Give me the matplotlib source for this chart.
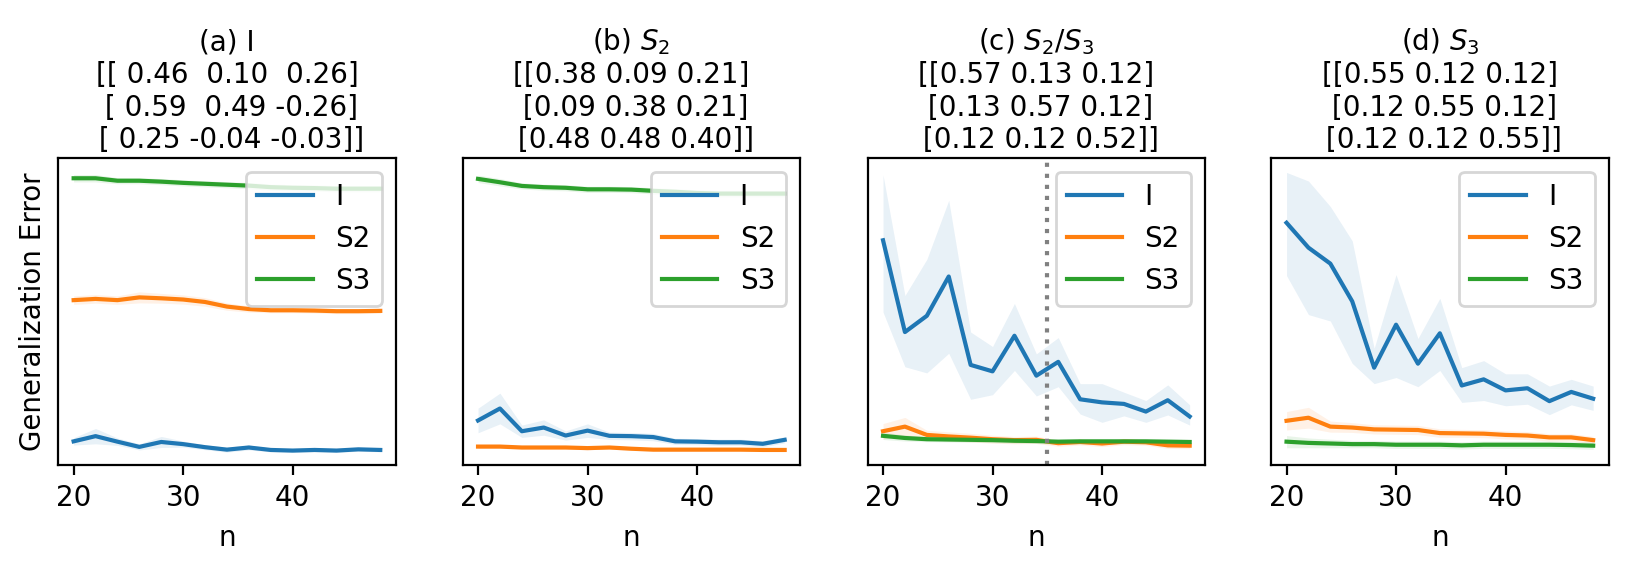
import numpy as np
import matplotlib
matplotlib.use("Agg")
import matplotlib.pyplot as plt

# ---------------- data ----------------
n = [20, 22, 24, 26, 28, 30, 32, 34, 36, 38, 40, 42, 44, 46, 48]
series_labels = ["I", "S2", "S3"]
panel_titles = ["(a) I", "(b) $S_2$", "(c) $S_2/S_3$", "(d) $S_3$"]

mat_a = [[0.46, 0.10, 0.26], [0.59, 0.49, -0.26], [0.25, -0.04, -0.03]]
mat_b = [[0.38, 0.09, 0.21], [0.09, 0.38, 0.21], [0.48, 0.48, 0.40]]
mat_c = [[0.57, 0.13, 0.12], [0.13, 0.57, 0.12], [0.12, 0.12, 0.52]]
mat_d = [[0.55, 0.12, 0.12], [0.12, 0.55, 0.12], [0.12, 0.12, 0.55]]

# (a) values (arbitrary error units) and band half-widths
a_I = [0.077, 0.094, 0.076, 0.059, 0.075, 0.068, 0.058, 0.050, 0.057, 0.049, 0.047, 0.049, 0.047, 0.051, 0.049]
a_I_err = [0.012, 0.025, 0.012, 0.010, 0.018, 0.010, 0.008, 0.008, 0.008, 0.006, 0.006, 0.006, 0.006, 0.006, 0.006]
a_S2 = [0.537, 0.541, 0.537, 0.546, 0.543, 0.539, 0.531, 0.516, 0.508, 0.504, 0.504, 0.503, 0.501, 0.501, 0.502]
a_S2_err = [0.014, 0.014, 0.014, 0.018, 0.016, 0.015, 0.014, 0.012, 0.010, 0.008, 0.008, 0.008, 0.008, 0.008, 0.008]
a_S3 = [0.934, 0.934, 0.926, 0.926, 0.923, 0.919, 0.916, 0.913, 0.910, 0.905, 0.903, 0.902, 0.900, 0.900, 0.900]
a_S3_err = [0.012, 0.012, 0.010, 0.010, 0.010, 0.010, 0.010, 0.010, 0.010, 0.010, 0.010, 0.010, 0.010, 0.010, 0.010]

# (b)
b_I = [0.145, 0.184, 0.110, 0.122, 0.096, 0.112, 0.095, 0.094, 0.091, 0.077, 0.076, 0.074, 0.074, 0.069, 0.082]
b_I_err = [0.040, 0.050, 0.020, 0.025, 0.015, 0.022, 0.012, 0.012, 0.012, 0.010, 0.010, 0.010, 0.010, 0.010, 0.010]
b_S2 = [0.060, 0.060, 0.057, 0.057, 0.057, 0.055, 0.057, 0.053, 0.050, 0.050, 0.050, 0.050, 0.050, 0.049, 0.049]
b_S2_err = [0.006, 0.006, 0.005, 0.005, 0.005, 0.005, 0.005, 0.005, 0.005, 0.005, 0.005, 0.005, 0.005, 0.005, 0.005]
b_S3 = [0.932, 0.921, 0.909, 0.905, 0.903, 0.898, 0.898, 0.897, 0.893, 0.890, 0.886, 0.884, 0.884, 0.884, 0.884]
b_S3_err = [0.012, 0.012, 0.010, 0.010, 0.010, 0.010, 0.010, 0.010, 0.010, 0.010, 0.010, 0.010, 0.010, 0.010, 0.010]

# (c)
c_I = [0.732, 0.433, 0.486, 0.614, 0.326, 0.305, 0.421, 0.291, 0.336, 0.214, 0.204, 0.199, 0.174, 0.211, 0.158]
c_I_lo = [0.498, 0.320, 0.300, 0.364, 0.214, 0.229, 0.308, 0.225, 0.255, 0.166, 0.139, 0.160, 0.139, 0.163, 0.130]
c_I_hi = [0.945, 0.552, 0.670, 0.862, 0.433, 0.386, 0.526, 0.362, 0.415, 0.265, 0.265, 0.237, 0.210, 0.261, 0.196]
c_S2 = [0.110, 0.125, 0.098, 0.093, 0.089, 0.084, 0.081, 0.082, 0.071, 0.075, 0.070, 0.076, 0.074, 0.064, 0.063]
c_S2_err = [0.025, 0.030, 0.015, 0.015, 0.014, 0.013, 0.012, 0.012, 0.010, 0.010, 0.010, 0.010, 0.010, 0.010, 0.010]
c_S3 = [0.095, 0.088, 0.084, 0.083, 0.082, 0.081, 0.079, 0.078, 0.076, 0.077, 0.077, 0.077, 0.077, 0.076, 0.075]
c_S3_err = [0.012, 0.010, 0.008, 0.008, 0.008, 0.008, 0.008, 0.008, 0.008, 0.008, 0.008, 0.008, 0.008, 0.008, 0.008]

# (d)
d_I = [0.789, 0.708, 0.656, 0.533, 0.317, 0.457, 0.330, 0.429, 0.259, 0.279, 0.243, 0.250, 0.208, 0.238, 0.216]
d_I_lo = [0.617, 0.490, 0.469, 0.331, 0.265, 0.285, 0.255, 0.308, 0.204, 0.210, 0.193, 0.198, 0.164, 0.196, 0.178]
d_I_hi = [0.953, 0.925, 0.842, 0.730, 0.380, 0.620, 0.412, 0.543, 0.317, 0.340, 0.297, 0.297, 0.257, 0.279, 0.257]
d_S2 = [0.144, 0.154, 0.125, 0.122, 0.116, 0.115, 0.114, 0.104, 0.103, 0.102, 0.098, 0.096, 0.090, 0.090, 0.081]
d_S2_err = [0.030, 0.034, 0.018, 0.016, 0.015, 0.015, 0.015, 0.014, 0.013, 0.013, 0.013, 0.013, 0.012, 0.012, 0.012]
d_S3 = [0.076, 0.072, 0.070, 0.068, 0.068, 0.066, 0.066, 0.066, 0.064, 0.066, 0.066, 0.066, 0.066, 0.065, 0.063]
d_S3_err = [0.020, 0.016, 0.014, 0.012, 0.012, 0.012, 0.012, 0.012, 0.012, 0.012, 0.012, 0.012, 0.012, 0.012, 0.012]

threshold_n = 35

# ---------------- plot ----------------
colors = ["#1f77b4", "#ff7f0e", "#2ca02c"]
DPI = 200
fig = plt.figure(figsize=(1629 / DPI, 573 / DPI), dpi=DPI)

W, H = 1629, 573
lefts_px = [58.3, 462.7, 867.7, 1271.2]
top_px, bottom_px, width_px = 158.0, 465.0, 337.3


def band(mean, err):
    m = np.asarray(mean)
    e = np.asarray(err)
    return m - e, m + e


panels = [
    (mat_a, [(a_I, *band(a_I, a_I_err)), (a_S2, *band(a_S2, a_S2_err)), (a_S3, *band(a_S3, a_S3_err))]),
    (mat_b, [(b_I, *band(b_I, b_I_err)), (b_S2, *band(b_S2, b_S2_err)), (b_S3, *band(b_S3, b_S3_err))]),
    (mat_c, [(c_I, c_I_lo, c_I_hi), (c_S2, *band(c_S2, c_S2_err)), (c_S3, *band(c_S3, c_S3_err))]),
    (mat_d, [(d_I, d_I_lo, d_I_hi), (d_S2, *band(d_S2, d_S2_err)), (d_S3, *band(d_S3, d_S3_err))]),
]

for i, (mat, sers) in enumerate(panels):
    ax = fig.add_axes([lefts_px[i] / W, (H - bottom_px) / H,
                       width_px / W, (bottom_px - top_px) / H])
    for (mean, lo, hi), lab, col in zip(sers, series_labels, colors):
        ax.fill_between(n, lo, hi, color=col, alpha=0.1, linewidth=0)
        ax.plot(n, mean, color=col, lw=1.5, label=lab)
    if i == 2:
        ax.axvline(threshold_n, color="gray", linestyle=":", lw=1.5)
    ax.set_ylim(0, 1)
    ax.set_yticks([])
    ax.set_xticks([20, 30, 40])
    ax.set_xlabel("n")
    mstr = np.array2string(np.array(mat), precision=2, floatmode="fixed")
    ax.set_title(panel_titles[i] + "\n" + mstr, fontsize=10, pad=3.6)
    ax.legend(loc="upper right")
    if i == 0:
        ax.set_ylabel("Generalization Error")

fig.savefig("out.png", dpi=DPI)
